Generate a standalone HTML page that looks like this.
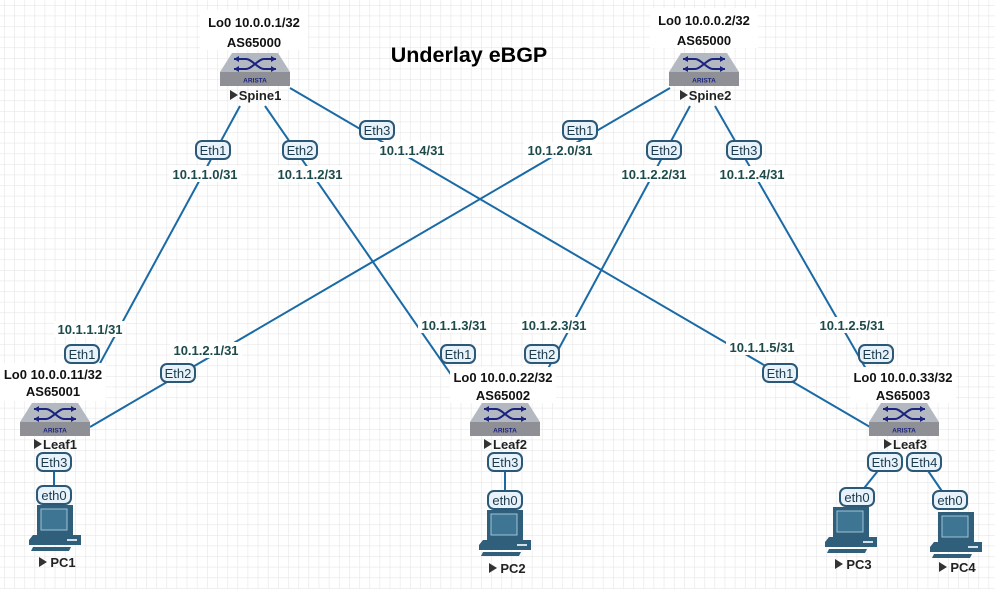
<!DOCTYPE html>
<html><head><meta charset="utf-8"><style>
html,body{margin:0;padding:0;background:#fff;}
svg{display:block;font-family:"Liberation Sans",sans-serif;}
.ip{font-size:13px;font-weight:bold;fill:#1d4a4a;}
.eth{font-size:13px;fill:#1d3a4a;}
.dl{font-size:13px;font-weight:bold;fill:#111;}
.nm{font-size:13px;font-weight:bold;fill:#222;}
</style></head><body>
<svg width="995" height="589" viewBox="0 0 995 589" xmlns="http://www.w3.org/2000/svg">
<defs>
<pattern id="g" x="4" y="5" width="10.15" height="10.6" patternUnits="userSpaceOnUse">
<path d="M0 0H10.15M0 0V10.6" stroke="#e6e6e6" stroke-width="1.2" fill="none"/>
</pattern>
<g id="sw">
<polygon points="12,0 58,0 70,19 0,19" fill="#b4b8c0"/>
<rect x="0" y="19" width="70" height="14" fill="#8e9096"/>
<path d="M14,6 H26 C32,6 38,16 44,16 H56 M14,16 H26 C32,16 38,6 44,6 H56" stroke="#1a237e" stroke-width="2" fill="none"/>
<path d="M14,6 l5,-3 v6z M14,16 l5,-3 v6z M56,6 l-5,-3 v6z M56,16 l-5,-3 v6z" fill="#1a237e"/>
<text x="35" y="29.5" font-size="6.5" font-weight="bold" fill="#1a237e" text-anchor="middle">ARISTA</text>
</g>
<g id="pc">
<rect x="8" y="0" width="36" height="30" fill="#2f5f7a"/>
<rect x="12" y="4" width="26" height="21" fill="#3e7593" stroke="#9fc3d6" stroke-width="1"/>
<polygon points="4,30 52,30 52,40 0,40 0,35" fill="#2f5f7a"/>
<rect x="38" y="34" width="10" height="2" fill="#cfe0ea"/>
<polygon points="4,42 42,42 40,46 2,46" fill="#2f5f7a"/>
</g>
</defs>
<rect width="995" height="589" fill="url(#g)"/>
<g stroke="#1a6aa5" stroke-width="2" fill="none">
<line x1="240" y1="106" x2="80" y2="400"/>
<line x1="265" y1="106" x2="470" y2="402"/>
<line x1="290" y1="88" x2="870" y2="427"/>
<line x1="670" y1="88" x2="90" y2="427"/>
<line x1="690" y1="106" x2="530" y2="402"/>
<line x1="715" y1="106" x2="885" y2="402"/>
<line x1="54" y1="462" x2="54" y2="495"/>
<line x1="505" y1="462" x2="505" y2="500"/>
<line x1="885" y1="462" x2="857" y2="497"/>
<line x1="922" y1="462" x2="948" y2="500"/>
</g>
<text x="469" y="62" font-size="21.5" font-weight="bold" text-anchor="middle" fill="#000">Underlay eBGP</text>
<g text-anchor="middle">
<rect x="200" y="10" width="108" height="40" fill="#fff"/>
<text class="dl" x="254" y="27">Lo0 10.0.0.1/32</text><text class="dl" x="254" y="47">AS65000</text>
<rect x="650" y="8" width="108" height="40" fill="#fff"/>
<text class="dl" x="704" y="25">Lo0 10.0.0.2/32</text><text class="dl" x="704" y="45">AS65000</text>
<rect x="0" y="363" width="106" height="38" fill="#fff"/>
<text class="dl" x="53" y="379">Lo0 10.0.0.11/32</text><text class="dl" x="53" y="396">AS65001</text>
<rect x="450" y="367" width="106" height="36" fill="#fff"/>
<text class="dl" x="503" y="382">Lo0 10.0.0.22/32</text><text class="dl" x="503" y="400">AS65002</text>
<rect x="850" y="367" width="106" height="36" fill="#fff"/>
<text class="dl" x="903" y="382">Lo0 10.0.0.33/32</text><text class="dl" x="903" y="400">AS65003</text>
</g>
<use href="#sw" x="220" y="53"/><use href="#sw" x="669" y="53"/>
<use href="#sw" x="20" y="403"/><use href="#sw" x="470" y="403"/><use href="#sw" x="869" y="403"/>
<use href="#pc" x="29" y="505"/><use href="#pc" x="479" y="510"/><use href="#pc" x="825" y="507"/><use href="#pc" x="930" y="512"/>
<g text-anchor="middle">
<text class="nm" x="260" y="100">Spine1</text><path d="M230,90 l8,5 l-8,5z" fill="#333"/>
<text class="nm" x="710" y="100">Spine2</text><path d="M680,90 l8,5 l-8,5z" fill="#333"/>
<text class="nm" x="60" y="449">Leaf1</text><path d="M34,439 l8,5 l-8,5z" fill="#333"/>
<text class="nm" x="510" y="449">Leaf2</text><path d="M484,439 l8,5 l-8,5z" fill="#333"/>
<text class="nm" x="910" y="449">Leaf3</text><path d="M884,439 l8,5 l-8,5z" fill="#333"/>
<text class="nm" x="63" y="567">PC1</text><path d="M39,557 l8,5 l-8,5z" fill="#333"/>
<text class="nm" x="513" y="573">PC2</text><path d="M489,563 l8,5 l-8,5z" fill="#333"/>
<text class="nm" x="859" y="569">PC3</text><path d="M835,559 l8,5 l-8,5z" fill="#333"/>
<text class="nm" x="963" y="572">PC4</text><path d="M939,562 l8,5 l-8,5z" fill="#333"/>
</g>
<g text-anchor="middle">
<g fill="#fff">
<rect x="169" y="166" width="72" height="16"/><rect x="274" y="166" width="72" height="16"/>
<rect x="376" y="142" width="72" height="16"/><rect x="524" y="142" width="72" height="16"/>
<rect x="618" y="166" width="72" height="16"/><rect x="716" y="166" width="72" height="16"/>
<rect x="54" y="321" width="72" height="16"/><rect x="170" y="342" width="72" height="16"/>
<rect x="418" y="317" width="72" height="16"/><rect x="518" y="317" width="72" height="16"/>
<rect x="726" y="339" width="72" height="16"/><rect x="816" y="317" width="72" height="16"/>
</g>
<text class="ip" x="205" y="179">10.1.1.0/31</text><text class="ip" x="310" y="179">10.1.1.2/31</text>
<text class="ip" x="412" y="155">10.1.1.4/31</text><text class="ip" x="560" y="155">10.1.2.0/31</text>
<text class="ip" x="654" y="179">10.1.2.2/31</text><text class="ip" x="752" y="179">10.1.2.4/31</text>
<text class="ip" x="90" y="334">10.1.1.1/31</text><text class="ip" x="206" y="355">10.1.2.1/31</text>
<text class="ip" x="454" y="330">10.1.1.3/31</text><text class="ip" x="554" y="330">10.1.2.3/31</text>
<text class="ip" x="762" y="352">10.1.1.5/31</text><text class="ip" x="852" y="330">10.1.2.5/31</text>
</g>
<g text-anchor="middle">
<g fill="#e8f2fb" stroke="#2b5876" stroke-width="2">
<rect x="196" y="141" width="34" height="18" rx="6"/><rect x="283" y="141" width="34" height="18" rx="6"/>
<rect x="360" y="121" width="34" height="18" rx="6"/><rect x="563" y="121" width="34" height="18" rx="6"/>
<rect x="647" y="141" width="34" height="18" rx="6"/><rect x="727" y="141" width="34" height="18" rx="6"/>
<rect x="65" y="345" width="34" height="18" rx="6"/><rect x="161" y="364" width="34" height="18" rx="6"/>
<rect x="37" y="453" width="34" height="18" rx="6"/><rect x="37" y="486" width="34" height="18" rx="6"/>
<rect x="441" y="345" width="34" height="18" rx="6"/><rect x="525" y="345" width="34" height="18" rx="6"/>
<rect x="488" y="453" width="34" height="18" rx="6"/><rect x="488" y="491" width="34" height="18" rx="6"/>
<rect x="763" y="364" width="34" height="18" rx="6"/><rect x="859" y="345" width="34" height="18" rx="6"/>
<rect x="868" y="453" width="34" height="18" rx="6"/><rect x="907" y="453" width="34" height="18" rx="6"/>
<rect x="840" y="488" width="34" height="18" rx="6"/><rect x="933" y="491" width="34" height="18" rx="6"/>
</g>
<text class="eth" x="213" y="155">Eth1</text><text class="eth" x="300" y="155">Eth2</text>
<text class="eth" x="377" y="135">Eth3</text><text class="eth" x="580" y="135">Eth1</text>
<text class="eth" x="664" y="155">Eth2</text><text class="eth" x="744" y="155">Eth3</text>
<text class="eth" x="82" y="359">Eth1</text><text class="eth" x="178" y="378">Eth2</text>
<text class="eth" x="54" y="467">Eth3</text><text class="eth" x="54" y="500">eth0</text>
<text class="eth" x="458" y="359">Eth1</text><text class="eth" x="542" y="359">Eth2</text>
<text class="eth" x="505" y="467">Eth3</text><text class="eth" x="505" y="505">eth0</text>
<text class="eth" x="780" y="378">Eth1</text><text class="eth" x="876" y="359">Eth2</text>
<text class="eth" x="885" y="467">Eth3</text><text class="eth" x="924" y="467">Eth4</text>
<text class="eth" x="857" y="502">eth0</text><text class="eth" x="950" y="505">eth0</text>
</g>
</svg>
</body></html>
